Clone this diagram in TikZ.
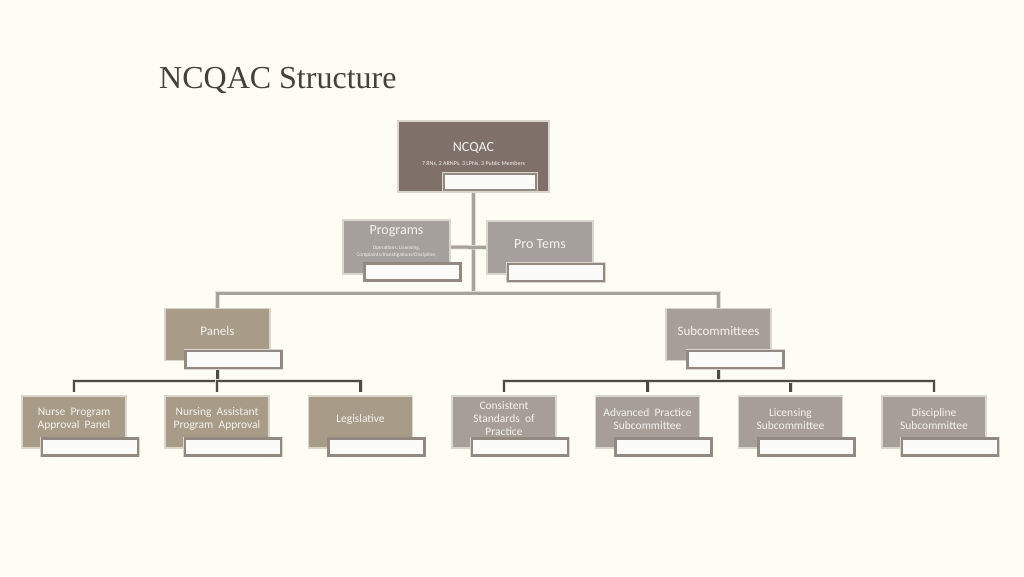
\documentclass[tikz,border=0pt]{standalone}
\usepackage{fontspec}
\setmainfont{Carlito}
\newfontfamily\titlefont{Liberation Serif}
\usetikzlibrary{calc}
\pgfdeclarelayer{bg}\pgfdeclarelayer{lines}\pgfsetlayers{bg,lines,main}
\definecolor{bgcol}{HTML}{FEFDF3}
\definecolor{titlecol}{HTML}{42423A}
\definecolor{topfill}{HTML}{7F7169}
\definecolor{grayfill}{HTML}{A5A09C}
\definecolor{tanfill}{HTML}{A89B87}
\definecolor{subfill}{HTML}{A69E97}
\definecolor{boxedge}{HTML}{DAD6CE}
\definecolor{lbledge}{HTML}{928A80}
\definecolor{lblfill}{HTML}{FAFAF8}
\definecolor{txtcol}{HTML}{F6F4F0}
\definecolor{linegray}{HTML}{A7A39B}
\definecolor{linedark}{HTML}{4E4C42}
\definecolor{halo}{HTML}{E2DFD6}
\begin{document}
\begin{tikzpicture}[x=1pt,y=-1pt,
  box/.style={rectangle, draw=boxedge, line width=1.5pt, inner sep=0pt},
  lbl/.style={rectangle, draw=lbledge, fill=lblfill, line width=2.2pt, inner sep=0pt,
    minimum width=96pt, minimum height=17pt,
    preaction={draw=boxedge, line width=3.8pt}},
  midbox/.style={box, minimum width=105pt, minimum height=52pt},
  lowbox/.style={box, minimum width=104pt, minimum height=52pt},
  txt/.style={text=txtcol, inner sep=0pt, align=center},
  bigtxt/.style={txt, font=\fontsize{14}{16}\selectfont},
  midtxt/.style={txt, font=\fontsize{13}{15}\selectfont},
  lowtxt/.style={txt, font=\fontsize{11.5}{13}\selectfont},
  conngray/.style={draw=linegray, line width=3pt, preaction={draw=halo, line width=4.5pt}},
  conndark/.style={draw=linedark, line width=2.6pt, preaction={draw=halo, line width=4pt}}
]
\begin{pgfonlayer}{bg}
\fill[bgcol] (0,0) rectangle (1024,576);
\end{pgfonlayer}
\useasboundingbox (0,0) rectangle (1024,576);

% title
\node[anchor=base west, inner sep=0pt, text=titlecol, font=\titlefont\fontsize{32}{36}\selectfont] (title) at (159,88) {NCQAC Structure};

% top box
\node[box, fill=topfill, minimum width=151pt, minimum height=71pt] (ncqac) at (473.5,156.5) {};
\node[lbl, minimum width=92pt, minimum height=16pt] (ncqacl) at (490,182) {};
\node[bigtxt] (ncqact) at (473.5,148) {NCQAC};
\node[txt, font=\fontsize{6}{7}\selectfont] (ncqacs) at (473.5,164) {7 RNs, 2 ARNPs, 3 LPNs, 3 Public Members};

% programs / pro tems
\node[midbox, fill=grayfill, minimum width=107pt, minimum height=54pt] (prog) at (396.5,247) {};
\node[bigtxt] (progt) at (396.5,231) {Programs};
\node[txt, font=\fontsize{5.3}{7}\selectfont] (progs) at (396.5,251.5) {Operations, Licensing,\\Complaints/Investigations/Discipline,};
\node[lbl] (progl) at ($(prog.center)+(16,25)$) {};

\node[midbox, fill=grayfill, minimum width=106pt, minimum height=53pt] (pro) at (540,247.5) {};
\node[bigtxt] (prot) at (540,244) {Pro Tems};
\node[lbl] (prol) at ($(pro.center)+(16,25)$) {};

% panels / subcommittees
\node[midbox, fill=tanfill] (panels) at (217.5,334.5) {};
\node[midtxt] (panelst) at (217.5,331) {Panels};
\node[lbl] (panelsl) at ($(panels.center)+(16,25)$) {};

\node[midbox, fill=subfill] (subc) at (718.5,334.5) {};
\node[midtxt] (subct) at (718.5,331) {Subcommittees};
\node[lbl] (subcl) at ($(subc.center)+(17,25)$) {};

% lower row
\foreach \n/\x/\f/\t in {nurse/74/tanfill/{Nurse\ \ Program\\Approval\ \ Panel},
                        nasst/217/tanfill/{Nursing\ \ Assistant\\Program\ \ Approval},
                        legis/360.5/tanfill/{Legislative},
                        cons/504/subfill/{Consistent\\Standards\ \ of\\Practice},
                        adv/647.5/subfill/{Advanced\ \ Practice\\Subcommittee},
                        lic/790.5/subfill/{Licensing\\Subcommittee},
                        disc/934/subfill/{Discipline\\Subcommittee}}{
  \node[lowbox, fill=\f] (\n) at (\x,422) {};
  \node[lowtxt] (\n t) at (\x,419) {\t};
  \node[lbl] (\n l) at ($(\n.center)+(16,25)$) {};
}

% connectors
\begin{pgfonlayer}{lines}
\coordinate (bus1) at (473.5,293);
\draw[conngray] (ncqac.south) -- (bus1);
\draw[conngray] (bus1) -| (panels.north);
\draw[conngray] (bus1) -| (subc.north);
\draw[conngray] (prog.east) -- (pro.west);

\coordinate (pbus) at (217.5,381);
\draw[conndark] (panels.south) -- (pbus);
\foreach \c in {nurse,nasst,legis}{
  \draw[conndark, shorten >=3pt] (pbus) -| (\c.north);
}
\coordinate (sbus) at (718.5,381);
\draw[conndark] (subc.south) -- (sbus);
\foreach \c in {cons,adv,lic,disc}{
  \draw[conndark, shorten >=3pt] (sbus) -| (\c.north);
}
\end{pgfonlayer}
\end{tikzpicture}
\end{document}
